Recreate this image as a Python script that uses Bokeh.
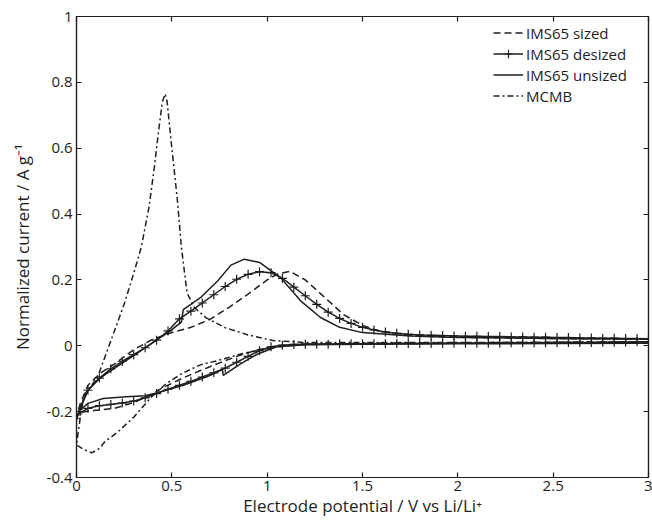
from bokeh.plotting import figure
from bokeh.models import LinearAxis, FixedTicker, Legend, LegendItem, Range1d
from bokeh.embed import file_html
from bokeh.resources import INLINE

# ---------------- data ----------------
# IMS65 sized (dashed): cathodic branch 3 -> 0, anodic branch 0 -> 3
sized_x_cat = [3.0, 2.5, 2.0, 1.5, 1.2, 1.05, 0.95, 0.85, 0.75, 0.65, 0.55, 0.45, 0.38, 0.3, 0.2, 0.1, 0.04, 0.0]
sized_y_cat = [0.012, 0.01, 0.008, 0.006, 0.004, -0.002, -0.012, -0.03, -0.052, -0.075, -0.1, -0.128, -0.152,
               -0.172, -0.19, -0.196, -0.2, -0.21]
sized_x_an = [0.0, 0.02, 0.06, 0.12, 0.2, 0.3, 0.4, 0.5, 0.6, 0.7, 0.8, 0.9, 1.0, 1.05, 1.12, 1.2, 1.3, 1.4,
              1.5, 1.6, 1.8, 2.0, 2.5, 3.0]
sized_y_an = [-0.215, -0.175, -0.12, -0.085, -0.055, -0.012, 0.02, 0.04, 0.056, 0.08, 0.117, 0.157, 0.2, 0.217,
              0.226, 0.2, 0.148, 0.095, 0.062, 0.042, 0.03, 0.026, 0.022, 0.02]

# IMS65 desized (line with + markers)
desized_x_cat = [3.00, 2.94, 2.88, 2.82, 2.76, 2.70, 2.64, 2.58, 2.52, 2.46, 2.40, 2.34, 2.28, 2.22, 2.16, 2.10,
                 2.04, 1.98, 1.92, 1.86, 1.80, 1.74, 1.68, 1.62, 1.56, 1.50, 1.44, 1.38, 1.32, 1.26, 1.20, 1.14,
                 1.08, 1.02, 0.96, 0.90, 0.84, 0.78, 0.72, 0.66, 0.60, 0.54, 0.48, 0.42, 0.36, 0.30, 0.24, 0.18,
                 0.12, 0.06, 0.00]
desized_y_cat = [0.012, 0.012, 0.011, 0.011, 0.011, 0.010, 0.010, 0.010, 0.010, 0.009, 0.009, 0.009, 0.009,
                 0.008, 0.008, 0.008, 0.008, 0.008, 0.007, 0.007, 0.007, 0.007, 0.007, 0.006, 0.006, 0.006,
                 0.006, 0.006, 0.005, 0.005, 0.005, 0.004, 0.002, -0.003, -0.015, -0.032, -0.05, -0.068,
                 -0.082, -0.095, -0.108, -0.12, -0.132, -0.145, -0.158, -0.168, -0.174, -0.178, -0.182,
                 -0.19, -0.21]
desized_x_an = [0.00, 0.06, 0.12, 0.18, 0.24, 0.30, 0.36, 0.42, 0.48, 0.54, 0.60, 0.66, 0.72, 0.78, 0.84, 0.90,
                0.96, 1.02, 1.08, 1.14, 1.20, 1.26, 1.32, 1.38, 1.44, 1.50, 1.56, 1.62, 1.68, 1.74, 1.80, 1.86,
                1.92, 1.98, 2.04, 2.10, 2.16, 2.22, 2.28, 2.34, 2.40, 2.46, 2.52, 2.58, 2.64, 2.70, 2.76, 2.82,
                2.88, 2.94, 3.00]
desized_y_an = [-0.22, -0.135, -0.098, -0.07, -0.047, -0.027, -0.006, 0.017, 0.045, 0.082, 0.105, 0.13, 0.155,
                0.18, 0.202, 0.217, 0.225, 0.222, 0.205, 0.178, 0.152, 0.126, 0.102, 0.083, 0.068, 0.056,
                0.048, 0.042, 0.038, 0.035, 0.033, 0.032, 0.031, 0.030, 0.029, 0.029, 0.028, 0.028, 0.027,
                0.027, 0.026, 0.026, 0.025, 0.025, 0.024, 0.024, 0.023, 0.023, 0.022, 0.022, 0.021]

# IMS65 unsized (solid)
unsized_x_cat = [3.0, 2.5, 2.0, 1.5, 1.2, 1.05, 0.95, 0.86, 0.77, 0.765, 0.69, 0.56, 0.44, 0.36, 0.26, 0.14,
                 0.06, 0.02, 0.0]
unsized_y_cat = [0.008, 0.007, 0.006, 0.005, 0.003, -0.003, -0.025, -0.055, -0.09, -0.072, -0.093, -0.12,
                 -0.14, -0.152, -0.155, -0.16, -0.175, -0.195, -0.215]
unsized_x_an = [0.0, 0.02, 0.06, 0.12, 0.2, 0.3, 0.4, 0.48, 0.55, 0.56, 0.65, 0.74, 0.81, 0.88, 0.96, 1.07,
                1.18, 1.28, 1.38, 1.5, 1.75, 2.0, 2.5, 3.0]
unsized_y_an = [-0.225, -0.185, -0.135, -0.1, -0.068, -0.03, 0.01, 0.04, 0.072, 0.11, 0.146, 0.197, 0.245,
                0.263, 0.253, 0.207, 0.134, 0.086, 0.056, 0.04, 0.03, 0.025, 0.022, 0.02]

# MCMB (dash-dot)
mcmb_x_cat = [3.0, 2.5, 2.0, 1.5, 1.2, 1.03, 0.86, 0.74, 0.65, 0.55, 0.47, 0.39, 0.3, 0.22, 0.18, 0.15, 0.12,
              0.08, 0.04, 0.01, 0.0]
mcmb_y_cat = [0.012, 0.011, 0.01, 0.008, 0.005, -0.005, -0.025, -0.045, -0.058, -0.085, -0.115, -0.157, -0.217,
              -0.26, -0.278, -0.29, -0.312, -0.325, -0.315, -0.305, -0.3]
mcmb_x_an = [0.0, 0.02, 0.04, 0.11, 0.18, 0.25, 0.3, 0.34, 0.38, 0.41, 0.43, 0.45, 0.465, 0.475, 0.5, 0.528,
             0.55, 0.58, 0.62, 0.68, 0.78, 0.9, 1.03, 1.2, 1.5, 2.0, 2.5, 3.0]
mcmb_y_an = [-0.3, -0.217, -0.15, -0.096, 0.015, 0.126, 0.22, 0.3, 0.42, 0.55, 0.65, 0.74, 0.765, 0.742, 0.6,
             0.449, 0.3, 0.16, 0.115, 0.085, 0.055, 0.033, 0.016, 0.01, 0.01, 0.01, 0.01, 0.01]

x_ticks = [0, 0.5, 1, 1.5, 2, 2.5, 3]
x_tick_labels = ["0", "0.5", "1", "1.5", "2", "2.5", "3"]
y_ticks = [-0.4, -0.2, 0, 0.2, 0.4, 0.6, 0.8, 1]
y_tick_labels = ["-0.4", "-0.2", "0", "0.2", "0.4", "0.6", "0.8", "1"]

series_names = ["IMS65 sized", "IMS65 desized", "IMS65 unsized", "MCMB"]

# ---------------- figure ----------------
FONT = "Open Sans"
INK = "#1e1e1e"

p = figure(width=652, height=525, output_backend="svg", toolbar_location=None,
           x_range=Range1d(0, 3), y_range=Range1d(-0.4, 1),
           min_border_left=76, min_border_right=4, min_border_top=16, min_border_bottom=48)
p.xgrid.visible = False
p.ygrid.visible = False
p.outline_line_color = INK
p.outline_line_width = 1.2
p.background_fill_color = "white"
p.border_fill_color = "white"


def style_axis(ax, ticks, labels, show_labels):
    ax.ticker = FixedTicker(ticks=ticks)
    ax.major_label_overrides = {t: l for t, l in zip(ticks, labels)}
    ax.major_tick_in = 5
    ax.major_tick_out = 0
    ax.minor_tick_in = 0
    ax.minor_tick_out = 0
    ax.axis_line_color = INK
    ax.axis_line_width = 1.2
    ax.major_tick_line_color = INK
    ax.major_tick_line_width = 1.2
    ax.major_label_text_font = FONT
    ax.major_label_text_color = INK
    if show_labels:
        ax.major_label_text_font_size = "15px"
        ax.major_label_standoff = 4
    else:
        ax.major_label_text_font_size = "0px"
        ax.major_label_standoff = 0


xa = p.xaxis[0]
ya = p.yaxis[0]
style_axis(xa, x_ticks, x_tick_labels, True)
style_axis(ya, y_ticks, y_tick_labels, True)
xa.major_label_standoff = 3
xa.axis_label = "Electrode potential / V vs Li/Li\u207a"
ya.axis_label = "Normalized current / A g\u207b\u00b9"
for ax in (xa, ya):
    ax.axis_label_text_font = FONT
    ax.axis_label_text_font_size = "17px"
    ax.axis_label_text_font_style = "normal"
    ax.axis_label_text_color = INK
xa.axis_label_standoff = 0
ya.axis_label_standoff = 10

top = LinearAxis()
style_axis(top, x_ticks, [""] * len(x_ticks), False)
right = LinearAxis()
style_axis(right, y_ticks, [""] * len(y_ticks), False)
p.add_layout(top, "above")
p.add_layout(right, "right")

LW = 1.5
r_sized = p.line(sized_x_cat + sized_x_an, sized_y_cat + sized_y_an, line_color=INK, line_width=LW,
                 line_dash="7 4")
r_des = p.line(desized_x_cat + desized_x_an, desized_y_cat + desized_y_an, line_color=INK, line_width=LW)
r_des_m = p.scatter(desized_x_cat + desized_x_an, desized_y_cat + desized_y_an, marker="cross", size=9,
                    line_color=INK, line_width=1.2)
r_uns = p.line(unsized_x_cat + unsized_x_an, unsized_y_cat + unsized_y_an, line_color=INK, line_width=LW)
r_mcmb = p.line(mcmb_x_cat + mcmb_x_an, mcmb_y_cat + mcmb_y_an, line_color=INK, line_width=LW,
                line_dash="6 3 2 3")

legend = Legend(items=[
    LegendItem(label=series_names[0], renderers=[r_sized]),
    LegendItem(label=series_names[1], renderers=[r_des, r_des_m]),
    LegendItem(label=series_names[2], renderers=[r_uns]),
    LegendItem(label=series_names[3], renderers=[r_mcmb]),
], location=(417, 371))
legend.border_line_color = None
legend.background_fill_alpha = 0
legend.padding = 0
legend.margin = 0
legend.spacing = 0
legend.glyph_width = 30
legend.glyph_height = 21
legend.label_height = 21
legend.label_standoff = 3
legend.label_text_font = FONT
legend.label_text_font_size = "15px"
legend.label_text_color = INK
p.add_layout(legend)

open("out.html", "w").write(file_html(p, INLINE))
